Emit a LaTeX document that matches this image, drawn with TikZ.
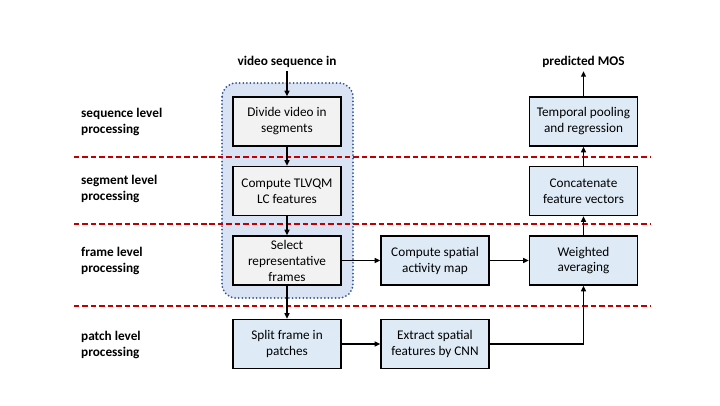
\documentclass[tikz,border=0pt]{standalone}
\usepackage{fontspec}
\setmainfont{Carlito}
\usetikzlibrary{arrows.meta}
\definecolor{boxgray}{HTML}{F2F2F2}
\definecolor{boxblue}{HTML}{DEEBF7}
\definecolor{regionfill}{HTML}{DAE3F3}
\definecolor{regiondraw}{HTML}{2F5597}
\definecolor{sepred}{HTML}{C00000}
\tikzset{
  stagebox/.style={draw=black, line width=1.6pt, minimum width=108bp, minimum height=49bp,
    align=center, inner sep=2pt, font=\fontsize{13.3}{16}\selectfont},
  graybox/.style={stagebox, fill=boxgray},
  bluebox/.style={stagebox, fill=boxblue},
  flow/.style={draw=black, line width=1.6pt, -{Triangle[length=5.5pt,width=5pt]}},
  levelsep/.style={draw=sepred, line width=1.6pt, dash pattern=on 5.5pt off 3pt},
  levellab/.style={font=\bfseries\fontsize{13.3}{16}\selectfont, align=left, anchor=west, inner sep=0pt},
  iolab/.style={font=\bfseries\fontsize{13.3}{16}\selectfont},
  region/.style={fill=regionfill, draw=regiondraw, line width=2pt, dash pattern=on 0pt off 3.6pt,
    line cap=round, rounded corners=14bp},
}

\begin{document}
\begin{tikzpicture}[x=1bp,y=-1bp]
  \useasboundingbox (0,0) rectangle (720,405);

  % segment-wise part
  \path[region] (222,83) rectangle (353,298);

  % level separators
  \draw[levelsep] (74,157) -- (650,157);
  \draw[levelsep] (74,224) -- (650,224);
  \draw[levelsep] (74,306) -- (650,306);

  \node[levellab] (seqlab) at (81,121.5) {sequence level\\processing};
  \node[levellab] (seglab) at (81,189) {segment level\\processing};
  \node[levellab] (framelab) at (81,261) {frame level\\processing};
  \node[levellab] (patchlab) at (81,345) {patch level\\processing};

  \node[iolab] (vidin) at (287,62) {video sequence in};
  \node[iolab] (mos) at (583.5,62) {predicted MOS};

  \node[graybox] (divide) at (287,121.5) {Divide video in\\segments};
  \node[graybox] (tlvqm) at (287,191) {Compute TLVQM\\LC features};
  \node[graybox] (select) at (287,260.5) {Select\\representative\\frames};
  \node[bluebox] (split) at (287,344) {Split frame in\\patches};

  \node[bluebox] (activity) at (435,260.5) {Compute spatial\\activity map};
  \node[bluebox] (extract) at (435,344) {Extract spatial\\features by CNN};

  \node[bluebox] (weighted) at (583.5,260.5) {Weighted\\averaging};
  \node[bluebox] (concat) at (583.5,191) {Concatenate\\feature vectors};
  \node[bluebox] (temporal) at (583.5,121.5) {Temporal pooling\\and regression};

  \draw[flow] (vidin) -- (divide);
  \draw[flow] (divide) -- (tlvqm);
  \draw[flow] (tlvqm) -- (select);
  \draw[flow] (select) -- (split);
  \draw[flow] (select) -- (activity);
  \draw[flow] (split) -- (extract);
  \draw[flow] (activity) -- (weighted);
  \draw[flow] (extract.east) -| (weighted.south);
  \draw[flow] (weighted) -- (concat);
  \draw[flow] (concat) -- (temporal);
  \draw[flow] (temporal) -- (mos);
\end{tikzpicture}
\end{document}
